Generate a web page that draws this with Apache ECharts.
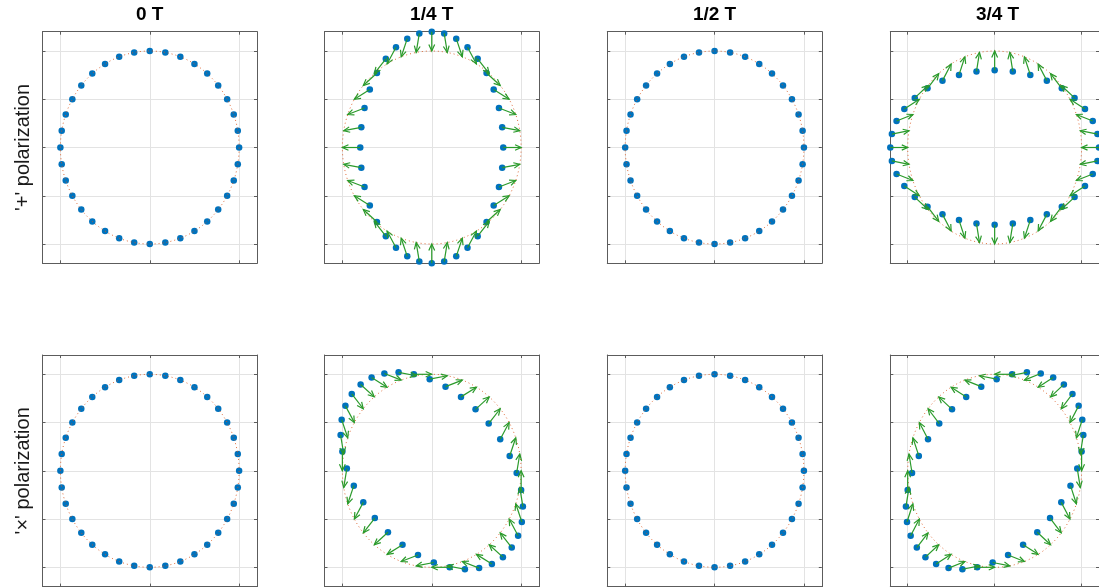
<!DOCTYPE html>
<html>
<head>
<meta charset="utf-8">
<script src="https://cdn.jsdelivr.net/npm/echarts@6/dist/echarts.min.js"></script>
<style>
  html, body { margin: 0; padding: 0; background: #ffffff; }
  #chart { width: 1099px; height: 587px; }
</style>
</head>
<body>
<div id="chart"></div>
<script>
// Test-particle ring (36 particles, 10 degree spacing) under a passing wave.
const phaseTitles = ['0 T', '1/4 T', '1/2 T', '3/4 T'];
const rowLabels = ["'+' polarization", "'\u00d7' polarization"];

// Rest positions of the ring
const ringX = [1, 0.985, 0.940, 0.866, 0.766, 0.643, 0.5, 0.342, 0.174, 0, -0.174, -0.342, -0.5, -0.643, -0.766, -0.866, -0.940, -0.985,
  -1, -0.985, -0.940, -0.866, -0.766, -0.643, -0.5, -0.342, -0.174, 0, 0.174, 0.342, 0.5, 0.643, 0.766, 0.866, 0.940, 0.985];
const ringY = [0, 0.174, 0.342, 0.5, 0.643, 0.766, 0.866, 0.940, 0.985, 1, 0.985, 0.940, 0.866, 0.766, 0.643, 0.5, 0.342, 0.174,
  0, -0.174, -0.342, -0.5, -0.643, -0.766, -0.866, -0.940, -0.985, -1, -0.985, -0.940, -0.866, -0.766, -0.643, -0.5, -0.342, -0.174];

// '+' polarization, quarter period
const plusQ1X = [0.8, 0.788, 0.752, 0.693, 0.613, 0.514, 0.4, 0.274, 0.139, 0, -0.139, -0.274, -0.4, -0.514, -0.613, -0.693, -0.752, -0.788,
  -0.8, -0.788, -0.752, -0.693, -0.613, -0.514, -0.4, -0.274, -0.139, 0, 0.139, 0.274, 0.4, 0.514, 0.613, 0.693, 0.752, 0.788];
const plusQ1Y = [0, 0.209, 0.410, 0.6, 0.772, 0.919, 1.039, 1.128, 1.182, 1.2, 1.182, 1.128, 1.039, 0.919, 0.772, 0.6, 0.410, 0.209,
  0, -0.209, -0.410, -0.6, -0.772, -0.919, -1.039, -1.128, -1.182, -1.2, -1.182, -1.128, -1.039, -0.919, -0.772, -0.6, -0.410, -0.209];

// '+' polarization, three-quarter period
const plusQ3X = [1.2, 1.182, 1.128, 1.039, 0.919, 0.772, 0.6, 0.410, 0.209, 0, -0.209, -0.410, -0.6, -0.772, -0.919, -1.039, -1.128, -1.182,
  -1.2, -1.182, -1.128, -1.039, -0.919, -0.772, -0.6, -0.410, -0.209, 0, 0.209, 0.410, 0.6, 0.772, 0.919, 1.039, 1.128, 1.182];
const plusQ3Y = [0, 0.139, 0.274, 0.4, 0.514, 0.613, 0.693, 0.752, 0.788, 0.8, 0.788, 0.752, 0.693, 0.613, 0.514, 0.4, 0.274, 0.139,
  0, -0.139, -0.274, -0.4, -0.514, -0.613, -0.693, -0.752, -0.788, -0.8, -0.788, -0.752, -0.693, -0.613, -0.514, -0.4, -0.274, -0.139];

// 'x' polarization, quarter period
const crossQ1X = [1, 0.950, 0.872, 0.766, 0.637, 0.490, 0.327, 0.154, -0.023, -0.2, -0.371, -0.530, -0.673, -0.796, -0.895, -0.966, -1.008, -1.020,
  -1, -0.950, -0.872, -0.766, -0.637, -0.490, -0.327, -0.154, 0.023, 0.2, 0.371, 0.530, 0.673, 0.796, 0.895, 0.966, 1.008, 1.020];
const crossQ1Y = [-0.2, -0.023, 0.154, 0.327, 0.490, 0.637, 0.766, 0.872, 0.950, 1, 1.020, 1.008, 0.966, 0.895, 0.796, 0.673, 0.530, 0.371,
  0.2, 0.023, -0.154, -0.327, -0.490, -0.637, -0.766, -0.872, -0.950, -1, -1.020, -1.008, -0.966, -0.895, -0.796, -0.673, -0.530, -0.371];

// 'x' polarization, three-quarter period
const crossQ3X = [1, 1.020, 1.008, 0.966, 0.895, 0.796, 0.673, 0.530, 0.371, 0.2, 0.023, -0.154, -0.327, -0.490, -0.637, -0.766, -0.872, -0.950,
  -1, -1.020, -1.008, -0.966, -0.895, -0.796, -0.673, -0.530, -0.371, -0.2, -0.023, 0.154, 0.327, 0.490, 0.637, 0.766, 0.872, 0.950];
const crossQ3Y = [0.2, 0.371, 0.530, 0.673, 0.796, 0.895, 0.966, 1.008, 1.020, 1, 0.950, 0.872, 0.766, 0.637, 0.490, 0.327, 0.154, -0.023,
  -0.2, -0.371, -0.530, -0.673, -0.796, -0.895, -0.966, -1.008, -1.020, -1, -0.950, -0.872, -0.766, -0.637, -0.490, -0.327, -0.154, 0.023];

const xTicks = [-1, 0, 1];
const yTicks = [-1, -0.5, 0, 0.5, 1];
const axisLimit = 1.2;
const ringRadius = 1;

// Particle positions for each row (polarization) and column (phase)
const panelX = [
  [ringX, plusQ1X, ringX, plusQ3X],
  [ringX, crossQ1X, ringX, crossQ3X]
];
const panelY = [
  [ringY, plusQ1Y, ringY, plusQ3Y],
  [ringY, crossQ1Y, ringY, crossQ3Y]
];

// ---- layout & styling ----
const colLeft = [42.5, 324.5, 607.3, 890.3];
const rowTop = [31.7, 355];
const boxW = 214.5, boxH = 231.6;
const dotColor = '#0072BD';
const ringColor = '#D95319';
const arrowColor = '#2a9a2a';
const boxColor = '#5c5c5c';
const gridColor = '#e3e3e3';
const fontFamily = "'Liberation Sans', Arial, Helvetica, sans-serif";

function renderRing(params, api) {
  const c = api.coord([api.value(0), api.value(1)]);
  const s = api.size([api.value(2), api.value(2)]);
  return {
    type: 'ellipse',
    shape: { cx: c[0], cy: c[1], rx: s[0], ry: s[1] },
    style: { stroke: ringColor, fill: null, lineWidth: 1, lineDash: [1, 3], opacity: 0.85 }
  };
}

// Arrow from displaced particle back to its rest position
function renderArrow(params, api) {
  const p0 = api.coord([api.value(0), api.value(1)]);
  const p1 = api.coord([api.value(2), api.value(3)]);
  const dx = p1[0] - p0[0], dy = p1[1] - p0[1];
  const len = Math.hypot(dx, dy);
  if (len < 0.5) return null;
  const ux = dx / len, uy = dy / len;
  const head = Math.min(6.5, len * 0.34);
  const w = head * 0.45;
  const bx = p1[0] - ux * head, by = p1[1] - uy * head;
  return {
    type: 'group',
    children: [
      { type: 'line', shape: { x1: p0[0], y1: p0[1], x2: p1[0], y2: p1[1] },
        style: { stroke: arrowColor, lineWidth: 1.2 } },
      { type: 'polyline', shape: { points: [[bx - uy * w, by + ux * w], [p1[0], p1[1]], [bx + uy * w, by - ux * w]] },
        style: { stroke: arrowColor, fill: null, lineWidth: 1.2 } }
    ]
  };
}

function makeAxis(gridIndex, position, ticks, withSplit) {
  return {
    type: 'value', gridIndex, position,
    min: -axisLimit, max: axisLimit,
    axisLine: { show: true, onZero: false, lineStyle: { color: boxColor, width: 1 } },
    axisTick: { show: true, inside: true, length: 3, customValues: ticks, lineStyle: { color: boxColor } },
    axisLabel: { show: false, customValues: ticks },
    splitLine: { show: withSplit, lineStyle: { color: gridColor, width: 1 } },
    axisPointer: { show: false }
  };
}

const grids = [], xAxes = [], yAxes = [], series = [], graphics = [];
let g = 0;
for (let r = 0; r < 2; r++) {
  for (let c = 0; c < 4; c++) {
    grids.push({ left: colLeft[c], top: rowTop[r], width: boxW, height: boxH, containLabel: false });
    xAxes.push(makeAxis(g, 'bottom', xTicks, true));
    xAxes.push(makeAxis(g, 'top', xTicks, false));
    yAxes.push(makeAxis(g, 'left', yTicks, true));
    yAxes.push(makeAxis(g, 'right', yTicks, false));

    const px = panelX[r][c], py = panelY[r][c];
    const dots = px.map((x, i) => [x, py[i]]);
    const arrows = px.map((x, i) => [x, py[i], ringX[i], ringY[i]]);

    series.push({
      type: 'scatter', xAxisIndex: 2 * g, yAxisIndex: 2 * g,
      data: dots, symbol: 'circle', symbolSize: 6.5, clip: false,
      itemStyle: { color: dotColor, opacity: 1 }, silent: true, z: 2
    });
    series.push({
      type: 'custom', xAxisIndex: 2 * g, yAxisIndex: 2 * g,
      data: [[0, 0, ringRadius]], renderItem: renderRing, silent: true, z: 3
    });
    series.push({
      type: 'custom', xAxisIndex: 2 * g, yAxisIndex: 2 * g,
      data: arrows, renderItem: renderArrow, silent: true, z: 4
    });
    g++;
  }
}

for (let c = 0; c < 4; c++) {
  graphics.push({
    type: 'text', x: colLeft[c] + boxW / 2, y: 15,
    style: { text: phaseTitles[c], font: 'bold 19px ' + fontFamily, fill: '#000', textAlign: 'center', textVerticalAlign: 'middle' }
  });
}
for (let r = 0; r < 2; r++) {
  graphics.push({
    type: 'text', x: 23, y: rowTop[r] + boxH / 2, rotation: Math.PI / 2,
    style: { text: rowLabels[r], font: '20px ' + fontFamily, fill: '#1a1a1a', textAlign: 'center', textVerticalAlign: 'middle' }
  });
}

const chart = echarts.init(document.getElementById('chart'), null, { renderer: 'canvas' });
chart.setOption({
  animation: false,
  backgroundColor: '#ffffff',
  grid: grids,
  xAxis: xAxes,
  yAxis: yAxes,
  series: series,
  graphic: graphics
});
</script>
</body>
</html>
